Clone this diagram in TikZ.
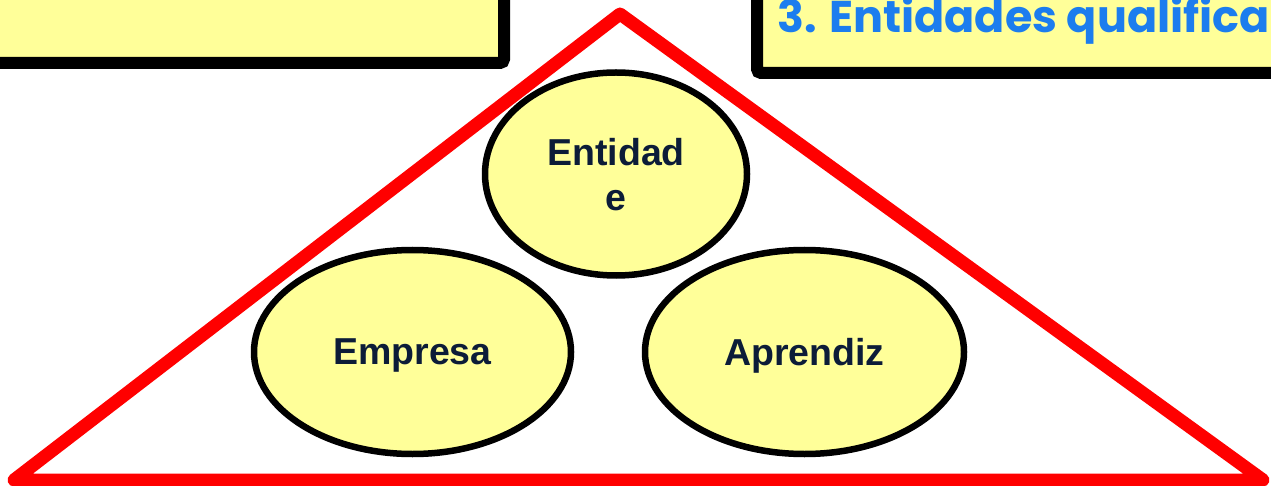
\documentclass[tikz,border=0pt]{standalone}
\usepackage{fontspec}
\setmainfont{Liberation Sans}
\newfontfamily\titlefont{Poppins}
\usetikzlibrary{shapes.geometric}
\definecolor{boxyellow}{HTML}{FFFF99}
\definecolor{tiltblue}{HTML}{1C7DEE}
\definecolor{navytext}{HTML}{0C1C38}
\definecolor{trired}{HTML}{FF0000}
\tikzset{
  topbox/.style={draw=black, fill=boxyellow, line width=12pt, rounded corners=4pt},
  bubble/.style={ellipse, draw=black, fill=boxyellow, line width=6.5pt, inner sep=0pt,
    font=\bfseries\fontsize{37.5}{45}\selectfont, text=navytext, align=center, text depth=0pt},
  tri/.style={draw=trired, line width=13pt, line join=round}
}
\begin{document}
\begin{tikzpicture}[x=1pt,y=-1pt]
\useasboundingbox (0,0) rectangle (1271,486);
\clip (0,0) rectangle (1271,486);
\draw[topbox] (-30,-30) rectangle (504,63);
\draw[topbox] (757,73) rectangle (1320,-30);
\node[anchor=base west, inner sep=0pt, text=tiltblue, font=\titlefont\bfseries\fontsize{44.5}{52}\selectfont] (title) at (777,33) {3. Entidades qualifica};
\coordinate (apex) at (620,14);
\coordinate (bl) at (14,480);
\coordinate (br) at (1263,480);
\draw[tri] (apex) -- (bl) -- (br) -- cycle;
\node[bubble, minimum width=262pt, minimum height=203pt] (ent) at (616,174) {Entidad\\e};
\node[bubble, minimum width=317pt, minimum height=204pt] (emp) at (412.5,352) {Empresa};
\node[bubble, minimum width=319pt, minimum height=204pt] (apr) at (804.5,352) {Aprendiz};
\end{tikzpicture}
\end{document}
